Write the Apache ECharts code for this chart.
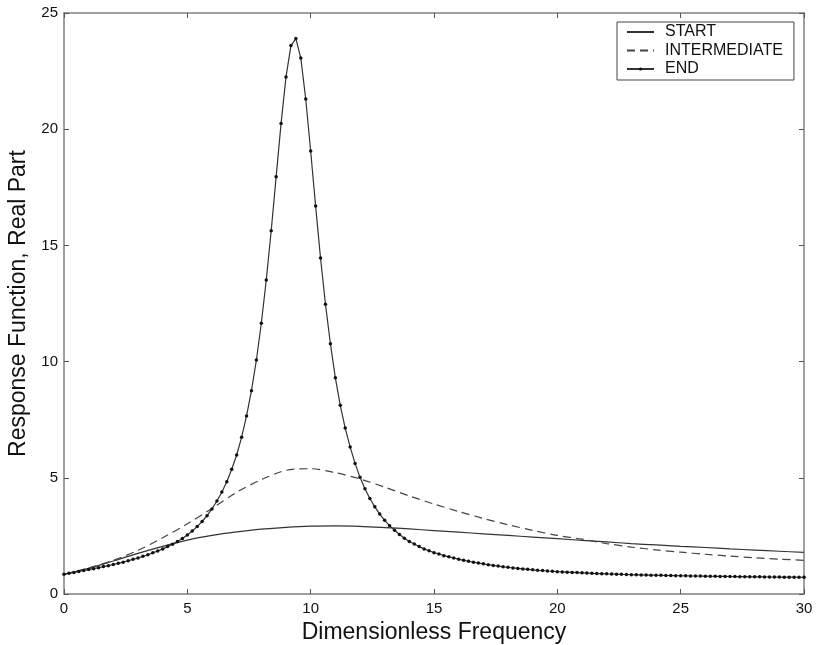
<!DOCTYPE html>
<html>
<head>
<meta charset="utf-8">
<script src="https://cdn.jsdelivr.net/npm/echarts@6/dist/echarts.min.js"></script>
<style>
html,body{margin:0;padding:0;background:#fff;}
#c{width:817px;height:645px;}
</style>
</head>
<body>
<div id="c"></div>
<script>
const seriesNames = ['START', 'INTERMEDIATE', 'END'];
const xTicks = [0, 5, 10, 15, 20, 25, 30];
const yTicks = [0, 5, 10, 15, 20, 25];

const smoothX = [0,1,2,3,4,5,6,7,8,9,10,11,12,13,14,15,16,17,18,19,20,21,22,23,24,25,26,27,28,29,30];
const startY = [0.85,1.10,1.42,1.75,2.05,2.32,2.52,2.67,2.79,2.87,2.92,2.93,2.91,2.86,2.80,2.73,2.66,2.59,2.52,2.45,2.38,2.31,2.24,2.17,2.11,2.05,2.00,1.94,1.89,1.84,1.79];
const intermY = [0.85,1.12,1.45,1.88,2.42,3.02,3.68,4.38,4.92,5.32,5.39,5.22,4.95,4.60,4.22,3.87,3.55,3.25,2.98,2.74,2.52,2.36,2.17,2.02,1.90,1.80,1.71,1.63,1.56,1.50,1.45];

const endX = [0,0.2,0.4,0.6,0.8,1,1.2,1.4,1.6,1.8,2,2.2,2.4,2.6,2.8,3,3.2,3.4,3.6,3.8,4,4.2,4.4,4.6,4.8,5,5.2,5.4,5.6,5.8,6,6.2,6.4,6.6,6.8,7,7.2,7.4,7.6,7.8,8,8.2,8.4,8.6,8.8,9,9.2,9.4,9.6,9.8,10,10.2,10.4,10.6,10.8,11,11.2,11.4,11.6,11.8,12,12.2,12.4,12.6,12.8,13,13.2,13.4,13.6,13.8,14,14.2,14.4,14.6,14.8,15,15.2,15.4,15.6,15.8,16,16.2,16.4,16.6,16.8,17,17.2,17.4,17.6,17.8,18,18.2,18.4,18.6,18.8,19,19.2,19.4,19.6,19.8,20,20.2,20.4,20.6,20.8,21,21.2,21.4,21.6,21.8,22,22.2,22.4,22.6,22.8,23,23.2,23.4,23.6,23.8,24,24.2,24.4,24.6,24.8,25,25.2,25.4,25.6,25.8,26,26.2,26.4,26.6,26.8,27,27.2,27.4,27.6,27.8,28,28.2,28.4,28.6,28.8,29,29.2,29.4,29.6,29.8,30];
const endY = [0.85,0.89,0.93,0.97,1.01,1.05,1.09,1.13,1.18,1.22,1.27,1.32,1.37,1.43,1.49,1.55,1.62,1.69,1.77,1.85,1.94,2.04,2.14,2.26,2.39,2.54,2.71,2.90,3.12,3.37,3.66,4.00,4.39,4.83,5.37,5.98,6.74,7.66,8.75,10.07,11.65,13.51,15.63,17.95,20.25,22.25,23.60,23.90,23.06,21.30,19.06,16.70,14.46,12.47,10.77,9.31,8.12,7.14,6.33,5.62,5.02,4.53,4.11,3.75,3.44,3.17,2.94,2.74,2.56,2.40,2.26,2.15,2.04,1.94,1.86,1.78,1.72,1.65,1.60,1.55,1.50,1.45,1.41,1.37,1.33,1.30,1.26,1.23,1.20,1.17,1.15,1.12,1.10,1.08,1.06,1.04,1.02,1.01,0.99,0.98,0.96,0.95,0.94,0.93,0.92,0.91,0.90,0.89,0.88,0.874,0.866,0.86,0.853,0.845,0.84,0.833,0.827,0.822,0.816,0.811,0.806,0.802,0.797,0.793,0.789,0.785,0.781,0.777,0.774,0.77,0.767,0.764,0.76,0.757,0.755,0.752,0.749,0.746,0.744,0.741,0.739,0.737,0.735,0.732,0.73,0.728,0.726,0.724,0.723,0.721,0.72];

const FONT = "'Liberation Sans', Arial, Helvetica, sans-serif";
const zip = (xs, ys) => xs.map((x, i) => [x, ys[i]]);

const axisLineStyle = { color: '#808080', width: 1.5 };
const tickStyle = { show: true, inside: true, length: 5, lineStyle: { color: '#555', width: 1 } };

const chart = echarts.init(document.getElementById('c'), null, { renderer: 'canvas' });
chart.setOption({
  animation: false,
  backgroundColor: '#fff',
  textStyle: { fontFamily: FONT },
  grid: { left: 64, right: 13, top: 13, bottom: 51, containLabel: false, outerBoundsMode: 'none' },
  legend: {
    data: [
      { name: 'START', itemStyle: { opacity: 0 } },
      { name: 'INTERMEDIATE', itemStyle: { opacity: 0 } },
      { name: 'END' }
    ],
    orient: 'vertical',
    left: 617,
    top: 22,
    itemWidth: 27,
    itemHeight: 4,
    itemGap: 2.5,
    padding: [2, 11, 3, 9],
    backgroundColor: '#fff',
    borderColor: '#444',
    borderWidth: 1,
    borderRadius: 0,
    textStyle: { fontFamily: FONT, fontSize: 16, color: '#111', padding: [0, 0, 0, 6] }
  },
  xAxis: [
    {
      type: 'value', min: 0, max: 30, interval: 5,
      name: 'Dimensionless Frequency', nameLocation: 'middle', nameGap: 24,
      nameTextStyle: { fontFamily: FONT, fontSize: 23, color: '#111' },
      axisLine: { show: true, onZero: false, lineStyle: axisLineStyle },
      axisTick: tickStyle,
      axisLabel: { fontFamily: FONT, fontSize: 15, color: '#111', margin: 7 },
      splitLine: { show: false }
    },
    {
      type: 'value', min: 0, max: 30, interval: 5, position: 'top',
      axisLine: { show: true, onZero: false, lineStyle: axisLineStyle },
      axisTick: tickStyle,
      axisLabel: { show: false },
      splitLine: { show: false }
    }
  ],
  yAxis: [
    {
      type: 'value', min: 0, max: 25, interval: 5,
      name: 'Response Function, Real Part', nameLocation: 'middle', nameGap: 30,
      nameTextStyle: { fontFamily: FONT, fontSize: 23, color: '#111' },
      axisLine: { show: true, onZero: false, lineStyle: axisLineStyle },
      axisTick: tickStyle,
      axisLabel: { fontFamily: FONT, fontSize: 15, color: '#111', margin: 6 },
      splitLine: { show: false }
    },
    {
      type: 'value', min: 0, max: 25, interval: 5, position: 'right',
      axisLine: { show: true, onZero: false, lineStyle: axisLineStyle },
      axisTick: tickStyle,
      axisLabel: { show: false },
      splitLine: { show: false }
    }
  ],
  series: [
    {
      name: 'START', type: 'line', data: zip(smoothX, startY),
      smooth: 0.3, symbol: 'none',
      lineStyle: { color: '#333', width: 1.2 },
      itemStyle: { color: '#333' }
    },
    {
      name: 'INTERMEDIATE', type: 'line', data: zip(smoothX, intermY),
      smooth: 0.3, symbol: 'none',
      lineStyle: { color: '#444', width: 1.2, type: [8, 5] },
      itemStyle: { color: '#444' }
    },
    {
      name: 'END', type: 'line', data: zip(endX, endY),
      smooth: false, symbol: 'circle', symbolSize: 3.5, showSymbol: true,
      lineStyle: { color: '#333', width: 1.2 },
      itemStyle: { color: '#111' }
    }
  ]
});
</script>
</body>
</html>
